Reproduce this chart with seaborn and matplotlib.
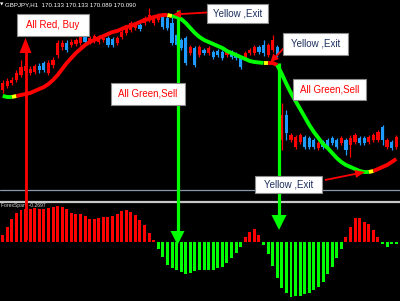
import numpy as np
import pandas as pd
import matplotlib
matplotlib.use("Agg")
import matplotlib.pyplot as plt
import seaborn as sns
from matplotlib.lines import Line2D
from matplotlib.patches import Rectangle, Polygon

# ---------------- data ----------------
open_ = [110, 114, 117, 120, 125, 129, 127, 128, 134, 137, 127, 135, 145, 153, 157, 155, 156, 157, 165, 158,
         159, 158, 160, 162, 161, 157, 163, 167, 170, 172, 175, 177, 180, 177, 180, 183, 182, 177, 165, 160,
         162, 147, 152, 145, 150, 147, 148, 149, 148, 145, 148, 146, 142, 142, 147, 147, 153, 155, 145, 150,
         153, 60, 85, 60, 53, 58, 63, 62, 60, 52, 58, 60, 62, 60, 57, 60, 55, 58, 62, 62,
         58, 60, 60, 73, 53, 58, 53]
close_ = [117, 119, 120, 127, 133, 134, 131, 134, 130, 130, 137, 140, 157, 157, 150, 158, 160, 163, 158, 162,
          164, 163, 162, 155, 155, 162, 168, 172, 177, 175, 171, 182, 185, 183, 185, 173, 172, 157, 155, 152,
          137, 153, 135, 153, 147, 152, 143, 145, 142, 149, 143, 142, 133, 147, 150, 153, 148, 147, 155, 160,
          145, 85, 67, 65, 63, 65, 53, 53, 53, 57, 53, 54, 57, 53, 62, 50, 62, 65, 57, 57,
          63, 65, 68, 60, 60, 52, 63]
high_ = [120, 122, 123, 130, 140, 137, 134, 136, 137, 139, 140, 143, 160, 160, 160, 161, 162, 167, 167, 164,
         166, 165, 164, 164, 163, 164, 170, 174, 179, 177, 177, 184, 192, 185, 187, 185, 184, 185, 167, 162,
         164, 155, 154, 155, 152, 154, 150, 151, 150, 151, 150, 148, 144, 149, 152, 155, 155, 160, 157, 165,
         155, 97, 90, 67, 65, 67, 65, 64, 62, 59, 60, 62, 64, 62, 64, 62, 65, 67, 64, 64,
         65, 67, 70, 75, 62, 60, 65]
low_ = [107, 112, 115, 118, 123, 127, 125, 126, 127, 128, 125, 132, 142, 150, 148, 153, 154, 155, 155, 156,
        157, 156, 158, 153, 153, 155, 161, 165, 168, 170, 169, 175, 178, 175, 178, 171, 170, 155, 153, 150,
        135, 145, 133, 143, 145, 145, 141, 143, 140, 143, 141, 140, 131, 140, 145, 145, 146, 144, 143, 148,
        143, 50, 60, 58, 51, 56, 51, 51, 51, 50, 51, 52, 55, 51, 55, 45, 43, 56, 55, 55,
        56, 58, 58, 55, 51, 50, 51]

signal_line = [104, 103, 103, 104, 105, 106, 107, 109, 111, 113, 116, 120, 125, 131, 137, 142, 147, 151, 155, 158,
               160, 162, 164, 166, 168, 169, 171, 173, 174, 176, 178, 180, 181, 183, 184, 185, 185, 184, 183, 181,
               177, 172, 167, 163, 160, 158, 156, 154, 152, 149, 147, 145, 143, 141, 139, 138, 137.5, 137, 137, 137,
               135, 126, 116, 107, 99, 91, 83, 75, 68, 62, 56, 52, 47, 42, 38, 35, 33, 31, 29, 28,
               28, 29, 31, 33, 35, 38, 41]
# state of the signal line: g = green (sell), y = yellow (exit), r = red (buy)
signal_state = list("ggy" + "r" * 33 + "y" + "g" * 20 + "y" + "rr" + "g" * 20 + "y" + "r" * 6)

hist_values = [0.073, 0.153, 0.233, 0.290, 0.327, 0.330, 0.333, 0.340, 0.333, 0.330,
               0.343, 0.357, 0.363, 0.357, 0.330, 0.297, 0.287, 0.283, 0.263, 0.237,
               0.237, 0.247, 0.257, 0.257, 0.263, 0.283, 0.317, 0.327, 0.307, 0.273,
               0.220, 0.177, 0.095, 0.023, -0.065, -0.142, -0.225, -0.260, -0.280, -0.295,
               -0.320, -0.310, -0.287, -0.277, -0.277, -0.277, -0.277, -0.260, -0.243, -0.210,
               -0.160, -0.103, -0.043, 0.050, 0.107, 0.133, 0.073, -0.027, -0.120, -0.240,
               -0.360, -0.453, -0.510, -0.550, -0.537, -0.533, -0.517, -0.503, -0.477, -0.443,
               -0.393, -0.317, -0.243, -0.160, -0.067, 0.050, 0.157, 0.247, 0.247, 0.207,
               0.180, 0.123, 0.057, -0.017, -0.043, -0.020, -0.020]

header_text = "GBPJPY,H1  170.133 170.133 170.089 170.090"
indicator_text = "ForexSpark -0.2697"

# ---------------- style ----------------
RED = "#ff0000"
GREEN = "#00ff00"
YELLOW = "#ffff00"
BLUE = "#1e9bff"
NAVY = "#1c2f5e"

sns.set_theme(style="dark", rc={"axes.facecolor": "black", "figure.facecolor": "black"})
plt.rcParams["font.family"] = ["Liberation Sans", "DejaVu Sans"]

W, H = 400, 301
fig = plt.figure(figsize=(4, 3.01), dpi=100, facecolor="black")


def fx(x):
    return x / W


def fy(y):
    return 1 - y / H


ax_top = fig.add_axes([0, fy(200), 1, 200 / H])
ax_bot = fig.add_axes([0, 0, 1, 98 / H])

n = len(open_)
idx = np.arange(n)
o = np.array(open_, float)
c = np.array(close_, float)
ccol = [RED if cc >= oo else BLUE for oo, cc in zip(o, c)]

# candles
ax_top.vlines(idx, low_, high_, colors=ccol, lw=0.9, zorder=2)
ax_top.bar(idx, np.maximum(np.abs(c - o), 1.5), bottom=np.minimum(o, c), width=0.7,
           color=ccol, linewidth=0, zorder=2)
ax_top.axhline(10, color="#8797aa", lw=0.9, zorder=1)

# signal line coloured by state
cmap = {"g": GREEN, "y": YELLOW, "r": RED}
s = 0
while s < n:
    e = s
    while e + 1 < n and signal_state[e + 1] == signal_state[s]:
        e += 1
    end = min(e + 2, n)
    sns.lineplot(x=idx[s:end], y=signal_line[s:end], color=cmap[signal_state[s]],
                 lw=2.8, ax=ax_top, zorder=3, solid_capstyle="butt")
    s = e + 1

# histogram
df = pd.DataFrame({"bar": idx, "value": hist_values,
                   "sign": ["up" if v >= 0 else "down" for v in hist_values]})
sns.barplot(data=df, x="bar", y="value", hue="sign", palette={"up": RED, "down": GREEN},
            native_scale=True, width=0.65, dodge=False, legend=False, errorbar=None,
            saturation=1, linewidth=0, ax=ax_bot)

for ax in (ax_top, ax_bot):
    ax.set_xlim(-0.59, 86.82)
    ax.set_axis_off()
ax_top.set_ylim(0, 200)
ax_bot.set_ylim(-0.587, 0.393)

# separator between windows
fig.add_artist(Line2D([0, 1], [fy(201.6), fy(201.6)], color="#c8c8c8", lw=1.6,
                      transform=fig.transFigure, zorder=1))


def arrow(x0, y0, x1, y1, color, lw, hl, hw, z=4):
    d = np.hypot(x1 - x0, y1 - y0)
    ux, uy = (x1 - x0) / d, (y1 - y0) / d
    bx, by = x1 - ux * hl, y1 - uy * hl
    fig.add_artist(Line2D([fx(x0), fx(bx + ux)], [fy(y0), fy(by + uy)], color=color, lw=lw,
                          transform=fig.transFigure, zorder=z, solid_capstyle="butt"))
    px_, py_ = -uy, ux
    tri = [(fx(x1), fy(y1)), (fx(bx + px_ * hw), fy(by + py_ * hw)),
           (fx(bx - px_ * hw), fy(by - py_ * hw))]
    fig.add_artist(Polygon(tri, closed=True, facecolor=color, edgecolor="none",
                           transform=fig.transFigure, zorder=z))


arrow(25.5, 240, 25.5, 38, RED, 2.0, 15, 6)
arrow(177.5, 10, 177.5, 245, GREEN, 2.3, 14, 7)
arrow(279, 63, 279, 230, GREEN, 2.3, 15, 7.5)
arrow(207, 12.5, 173, 14.5, RED, 1.3, 8, 4)
arrow(284, 48, 270.5, 62, RED, 1.3, 8, 4)
arrow(325, 180, 365, 172, RED, 1.3, 10, 4)


def box(x0, y0, x1, y1, text, color):
    fig.add_artist(Rectangle((fx(x0), fy(y1)), (x1 - x0) / W, (y1 - y0) / H,
                             facecolor="white", edgecolor="#8c8c8c", lw=0.8,
                             transform=fig.transFigure, zorder=6))
    fig.text(fx((x0 + x1) / 2), fy((y0 + y1) / 2), text, color=color, fontsize=7,
             ha="center", va="center", zorder=7)


box(17, 14, 89, 36, "All Red, Buy", RED)
box(111, 83, 185, 105, "All Green,Sell", RED)
box(293, 79, 366, 100, "All Green,Sell", RED)
box(207, 4, 268, 23, "Yellow ,Exit", NAVY)
box(283, 33, 348, 55, "Yellow ,Exit", NAVY)
box(255, 176, 322, 193, "Yellow ,Exit", NAVY)

fig.text(fx(0.3), fy(4.5), "▼", color="white", fontsize=3.2, va="center",
         family=["DejaVu Sans"])
fig.text(fx(5), fy(4.5), header_text, color="white", fontsize=4.4, va="center")
fig.text(fx(1), fy(205.5), indicator_text, color="#d8d8d8", fontsize=3.6, va="center")

fig.savefig("out.png", dpi=100, facecolor="black")
